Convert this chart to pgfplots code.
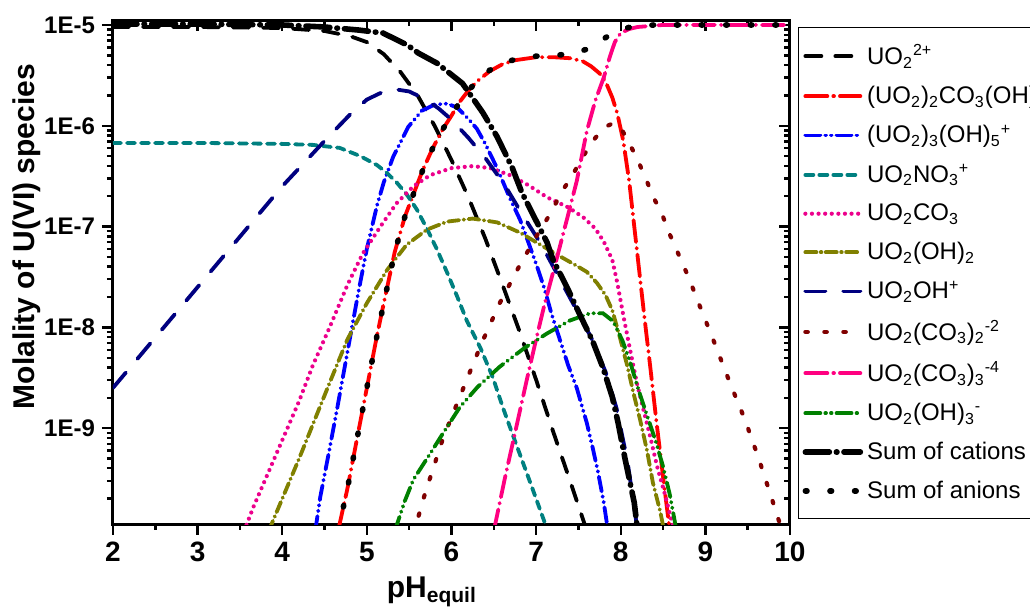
\documentclass[border=0pt]{standalone}
\usepackage{fontspec}
\setmainfont{Liberation Sans}
\usepackage{pgfplots}
\pgfplotsset{compat=1.18}

\definecolor{cTeal}{RGB}{0,128,128}
\definecolor{cOlive}{RGB}{128,128,0}
\definecolor{cNavy}{RGB}{0,0,128}
\definecolor{cMaroon}{RGB}{128,0,0}
\definecolor{cPink}{RGB}{255,0,128}
\definecolor{cGreen}{RGB}{0,128,0}

\pgfplotsset{
  ubox/.style={
    at={(0pt,0pt)}, anchor=south west,
    scale only axis, width=338.5pt, height=252pt,
    xmin=2, xmax=10, ymin=1.12e-10, ymax=1.12e-5,
    xtick={2,3,...,10},
    minor xtick={2.5,3.5,4.5,5.5,6.5,7.5,8.5,9.5},
    ytick={1e-9,1e-8,1e-7,1e-6,1e-5},
    minor ytick={2e-10,3e-10,4e-10,5e-10,6e-10,7e-10,8e-10,9e-10,
      2e-9,3e-9,4e-9,5e-9,6e-9,7e-9,8e-9,9e-9,
      2e-8,3e-8,4e-8,5e-8,6e-8,7e-8,8e-8,9e-8,
      2e-7,3e-7,4e-7,5e-7,6e-7,7e-7,8e-7,9e-7,
      2e-6,3e-6,4e-6,5e-6,6e-6,7e-6,8e-6,9e-6},
    major tick length=5.5pt, minor tick length=3pt,
    tick style={black, line width=1.2pt},
  },
}

\begin{document}
\begin{tikzpicture}
% inward ticks on top and right
\begin{semilogyaxis}[ubox,
    axis line style={draw=none},
    tick align=inside, xtick pos=right, ytick pos=right,
    xticklabels={}, yticklabels={}]
\end{semilogyaxis}

\begin{semilogyaxis}[ubox,
    axis line style={line width=1.5pt},
    tick align=outside, xtick pos=left, ytick pos=left,
    xticklabels={2,3,4,5,6,7,8,9,10},
    yticklabels={1E-9,1E-8,1E-7,1E-6,1E-5},
    xticklabel style={font=\fontsize{14}{16}\selectfont\bfseries},
    yticklabel style={font=\fontsize{12}{14}\selectfont\bfseries},
    xlabel={pH\textsubscript{equil}},
    ylabel={Molality of U(VI) species},
    xlabel style={font=\fontsize{15}{17}\selectfont\bfseries, at={(axis description cs:0.471,-0.135)}, anchor=center},
    ylabel style={font=\fontsize{15}{17}\selectfont\bfseries, at={(axis description cs:-0.127,0.57)}, anchor=center},
    legend style={at={(axis description cs:1.0118,0.986)}, anchor=north west,
      draw=black, line width=0.6pt, font=\fontsize{12}{14}\selectfont,
      inner xsep=2pt, inner ysep=6.5pt, row sep=5.25pt},
    legend cell align=left,
    legend image code/.code={\draw[#1] (0pt,0pt) -- (27.5pt,0pt);},
    every axis plot/.append style={line width=1.9pt, line cap=round},
  ]

% UO2 2+
\addplot[black, dash pattern=on 8pt off 7pt] coordinates {
(2.0,9.55e-6) (3.0,9.55e-6) (4.0,9.33e-6) (4.5,8.71e-6) (4.8,7.76e-6)
(5.0,6.76e-6) (5.2,5.13e-6) (5.4,3.39e-6) (5.6,2.00e-6) (5.8,1.00e-6)
(6.0,4.57e-7) (6.2,1.95e-7) (6.4,7.59e-8) (6.6,2.69e-8) (6.8,9.33e-9)
(7.0,3.02e-9) (7.2,9.33e-10) (7.4,3.02e-10) (7.6,9.55e-11)};
\addlegendentry{UO\textsubscript{2}\textsuperscript{2+}}

% (UO2)2CO3(OH)3-
\addplot[red, dash pattern=on 11pt off 3pt on 0.3pt off 3pt] coordinates {
(4.66,9.55e-11) (4.77,2.51e-10) (4.88,7.59e-10) (5.0,2.51e-9) (5.12,8.32e-9)
(5.2,1.74e-8) (5.33,5.62e-8) (5.45,1.26e-7) (5.55,2.09e-7) (5.66,3.63e-7)
(5.78,6.03e-7) (5.9,9.33e-7) (6.0,1.26e-6) (6.1,1.74e-6) (6.2,2.24e-6)
(6.3,2.75e-6) (6.45,3.47e-6) (6.6,4.07e-6) (6.75,4.47e-6) (7.0,4.79e-6)
(7.2,4.79e-6) (7.4,4.68e-6) (7.55,4.37e-6) (7.65,3.89e-6) (7.75,3.31e-6)
(7.82,2.75e-6) (7.9,1.91e-6) (7.96,1.32e-6) (8.03,7.08e-7) (8.1,2.82e-7)
(8.16,1.0e-7) (8.22,3.55e-8) (8.28,1.26e-8) (8.35,3.98e-9) (8.42,1.20e-9)
(8.5,3.31e-10) (8.58,9.55e-11)};
\addlegendentry{(UO\textsubscript{2})\textsubscript{2}CO\textsubscript{3}(OH)\textsubscript{3}\textsuperscript{-}}

% (UO2)3(OH)5+
\addplot[blue, dash pattern=on 7.5pt off 2.5pt on 0.3pt off 2.5pt on 0.3pt off 2.5pt] coordinates {
(4.39,9.55e-11) (4.45,2.09e-10) (4.54,5.13e-10) (4.65,1.58e-9) (4.78,6.31e-9)
(4.9,2.24e-8) (5.0,6.03e-8) (5.12,1.62e-7) (5.2,2.75e-7) (5.31,4.90e-7)
(5.49,9.77e-7) (5.65,1.41e-6) (5.8,1.62e-6) (5.95,1.66e-6) (6.07,1.51e-6)
(6.2,1.17e-6) (6.3,9.33e-7) (6.4,6.61e-7) (6.55,3.63e-7) (6.69,1.91e-7)
(6.81,1.17e-7) (6.91,6.92e-8) (7.0,4.27e-8) (7.1,2.40e-8) (7.18,1.38e-8)
(7.28,7.59e-9) (7.38,4.17e-9) (7.48,2.51e-9) (7.6,1.12e-9) (7.67,6.31e-10)
(7.73,3.72e-10) (7.8,1.82e-10) (7.85,9.55e-11)};
\addlegendentry{(UO\textsubscript{2})\textsubscript{3}(OH)\textsubscript{5}\textsuperscript{+}}

% UO2NO3+
\addplot[cTeal, dash pattern=on 4pt off 3pt] coordinates {
(2.0,6.76e-7) (3.0,6.76e-7) (4.0,6.61e-7) (4.36,6.46e-7) (4.68,6.03e-7)
(4.92,5.01e-7) (5.12,4.07e-7) (5.24,3.39e-7) (5.36,2.69e-7) (5.47,2.09e-7)
(5.59,1.48e-7) (5.71,9.55e-8) (5.83,5.89e-8) (5.95,3.47e-8) (6.07,2.00e-8)
(6.18,1.17e-8) (6.34,6.31e-9) (6.49,3.16e-9) (6.61,1.58e-9) (6.73,8.32e-10)
(6.94,2.75e-10) (7.12,1.05e-10) (7.15,8.91e-11)};
\addlegendentry{UO\textsubscript{2}NO\textsubscript{3}\textsuperscript{+}}

% UO2CO3
\addplot[magenta, line width=2.1pt, dash pattern=on 0pt off 3.3pt] coordinates {
(3.55,9.55e-11) (3.66,1.66e-10) (3.82,3.39e-10) (4.0,7.59e-10) (4.2,1.86e-9)
(4.36,4.17e-9) (4.56,1.0e-8) (4.77,2.63e-8) (4.95,5.37e-8) (5.16,1.0e-7)
(5.35,1.70e-7) (5.55,2.51e-7) (5.75,3.24e-7) (6.0,3.80e-7) (6.25,3.98e-7)
(6.46,3.80e-7) (6.69,3.24e-7) (6.91,2.57e-7) (7.13,1.95e-7) (7.38,1.55e-7)
(7.56,1.23e-7) (7.7,9.55e-8) (7.8,7.08e-8) (7.9,4.68e-8) (7.96,2.75e-8)
(8.03,1.32e-8) (8.11,6.03e-9) (8.19,2.82e-9) (8.27,1.51e-9) (8.35,8.13e-10)
(8.43,4.17e-10) (8.52,2.24e-10) (8.62,1.05e-10) (8.64,8.91e-11)};
\addlegendentry{UO\textsubscript{2}CO\textsubscript{3}}

% UO2(OH)2
\addplot[cOlive, dash pattern=on 5.5pt off 2.2pt on 0.3pt off 2.2pt] coordinates {
(3.84,9.55e-11) (4.2,5.01e-10) (4.56,2.82e-9) (4.77,7.59e-9) (5.0,1.74e-8)
(5.24,3.72e-8) (5.47,6.61e-8) (5.71,9.33e-8) (5.95,1.12e-7) (6.25,1.20e-7)
(6.54,1.10e-7) (6.81,8.71e-8) (7.05,6.61e-8) (7.25,5.25e-8) (7.46,4.17e-8)
(7.6,3.55e-8) (7.72,2.75e-8) (7.82,2.09e-8) (7.9,1.48e-8) (7.99,7.94e-9)
(8.08,4.07e-9) (8.15,2.24e-9) (8.23,1.20e-9) (8.31,6.03e-10) (8.38,2.88e-10)
(8.47,1.45e-10) (8.52,8.91e-11)};
\addlegendentry{UO\textsubscript{2}(OH)\textsubscript{2}}

% UO2OH+
\addplot[cNavy, dash pattern=on 10pt off 9pt] coordinates {
(2.0,2.51e-9) (3.0,2.51e-8) (4.0,2.51e-7) (4.5,7.08e-7) (4.8,1.29e-6)
(5.0,1.82e-6) (5.2,2.19e-6) (5.35,2.29e-6) (5.5,2.19e-6) (5.7,1.82e-6)
(5.85,1.48e-6) (6.0,1.15e-6) (6.2,7.59e-7) (6.4,4.79e-7) (6.63,2.57e-7)
(6.83,1.35e-7) (7.07,6.46e-8) (7.28,3.02e-8) (7.48,1.48e-8) (7.65,7.94e-9)
(7.82,3.63e-9) (7.95,1.58e-9) (8.08,4.68e-10) (8.2,9.55e-11)};
\addlegendentry{UO\textsubscript{2}OH\textsuperscript{+}}

% UO2(CO3)2 -2
\addplot[line width=2.1pt, cMaroon, dash pattern=on 1.2pt off 8.3pt] coordinates {
(5.55,8.91e-11) (5.69,2.29e-10) (5.9,7.94e-10) (6.18,3.02e-9) (6.36,7.08e-9)
(6.57,1.74e-8) (6.79,3.89e-8) (7.0,7.94e-8) (7.17,1.35e-7) (7.3,2.19e-7)
(7.43,3.24e-7) (7.55,4.90e-7) (7.7,7.59e-7) (7.82,9.77e-7) (7.92,1.07e-6)
(8.0,9.55e-7) (8.08,7.24e-7) (8.19,4.79e-7) (8.29,3.09e-7) (8.38,2.0e-7)
(8.49,1.32e-7) (8.56,9.12e-8) (8.67,5.62e-8) (8.8,3.16e-8) (8.94,1.58e-8)
(9.12,6.61e-9) (9.29,2.82e-9) (9.47,1.20e-9) (9.63,5.01e-10) (9.77,2.19e-10)
(9.9,1.0e-10)};
\addlegendentry{UO\textsubscript{2}(CO\textsubscript{3})\textsubscript{2}\textsuperscript{-2}}

% UO2(CO3)3 -4
\addplot[cPink, dash pattern=on 11pt off 3pt on 0.3pt off 3pt] coordinates {
(6.5,9.55e-11) (6.63,3.16e-10) (6.75,8.91e-10) (6.89,3.02e-9) (7.0,7.59e-9)
(7.1,1.70e-8) (7.24,4.68e-8) (7.37,1.23e-7) (7.48,2.82e-7) (7.6,8.91e-7)
(7.7,1.78e-6) (7.8,3.02e-6) (7.87,4.79e-6) (7.93,6.76e-6) (8.0,8.32e-6)
(8.1,9.12e-6) (8.2,9.55e-6) (8.5,1.0e-5) (10.0,1.0e-5)};
\addlegendentry{UO\textsubscript{2}(CO\textsubscript{3})\textsubscript{3}\textsuperscript{-4}}

% UO2(OH)3 -
\addplot[cGreen, dash pattern=on 7.5pt off 2.5pt on 0.3pt off 2.5pt on 0.3pt off 2.5pt] coordinates {
(5.33,9.55e-11) (5.45,1.91e-10) (5.55,3.09e-10) (5.75,5.62e-10) (5.9,8.91e-10)
(6.1,1.62e-9) (6.31,2.57e-9) (6.57,4.07e-9) (6.87,6.31e-9) (7.13,8.71e-9)
(7.4,1.17e-8) (7.64,1.38e-8) (7.79,1.38e-8) (7.91,1.15e-8) (8.02,7.41e-9)
(8.11,4.57e-9) (8.21,2.40e-9) (8.29,1.51e-9) (8.41,7.59e-10) (8.5,4.17e-10)
(8.58,2.19e-10) (8.66,9.55e-11)};
\addlegendentry{UO\textsubscript{2}(OH)\textsubscript{3}\textsuperscript{-}}

% sum of cations
\addplot[line width=2.8pt, black, dash pattern=on 12pt off 3.5pt on 0.3pt off 3.5pt] coordinates {
(2.0,1.02e-5) (3.0,1.02e-5) (4.0,1.0e-5) (4.5,9.55e-6) (4.9,8.91e-6)
(5.19,8.32e-6) (5.48,6.31e-6) (5.61,5.25e-6) (5.83,4.17e-6) (6.13,2.63e-6)
(6.37,1.35e-6) (6.54,7.76e-7) (6.72,3.80e-7) (6.83,2.19e-7) (7.01,1.10e-7)
(7.13,6.92e-8) (7.2,4.68e-8) (7.37,2.45e-8) (7.52,1.32e-8) (7.67,7.24e-9)
(7.79,3.98e-9) (7.9,2.04e-9) (7.97,1.12e-9) (8.05,5.01e-10) (8.16,1.82e-10)
(8.2,9.55e-11)};
\addlegendentry{Sum of cations}

% sum of anions
\addplot[line width=2.8pt, black, dash pattern=on 0.8pt off 11.5pt] coordinates {
(4.66,9.55e-11) (4.77,2.51e-10) (4.88,7.59e-10) (5.0,2.51e-9) (5.12,8.32e-9)
(5.2,1.74e-8) (5.33,5.62e-8) (5.45,1.26e-7) (5.55,2.09e-7) (5.66,3.63e-7)
(5.78,6.03e-7) (5.9,9.33e-7) (6.0,1.26e-6) (6.1,1.74e-6) (6.2,2.24e-6)
(6.3,2.75e-6) (6.45,3.55e-6) (6.6,4.17e-6) (6.8,4.68e-6) (7.0,4.90e-6)
(7.25,5.01e-6) (7.45,5.25e-6) (7.6,5.75e-6) (7.72,6.61e-6) (7.85,7.76e-6)
(8.0,8.91e-6) (8.15,9.77e-6) (8.4,1.0e-5) (10.0,1.0e-5)};
\addlegendentry{Sum of anions}
\end{semilogyaxis}
\pgfresetboundingbox
\useasboundingbox (-56.5pt,-42.5pt) rectangle (458.5pt,262pt);
\end{tikzpicture}
\end{document}
